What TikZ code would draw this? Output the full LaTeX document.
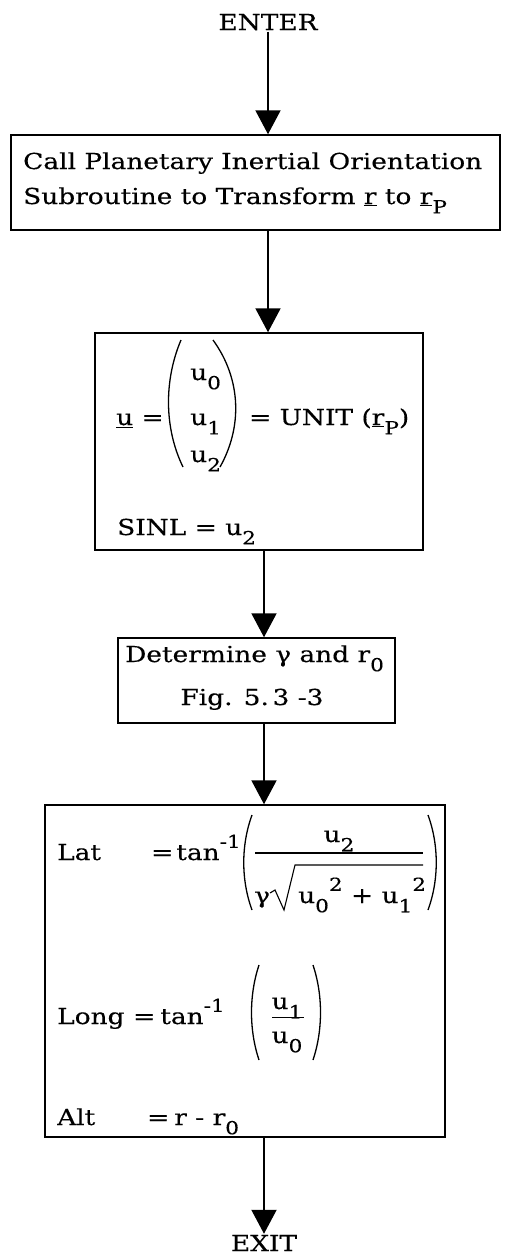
\documentclass[tikz,border=0pt]{standalone}
\usepackage{fontspec}
\setmainfont{DejaVu Serif}[FakeStretch=1.2,FakeBold=0.3]
\usetikzlibrary{arrows.meta}
\newcommand\dn[1]{\raisebox{-0.42em}{\fontsize{18}{18}\selectfont #1}}
\newcommand\up[1]{\raisebox{0.55em}{\fontsize{18}{18}\selectfont #1}}
\newcommand\ul[1]{\underline{#1}}
\begin{document}
\begin{tikzpicture}[x=1pt,y=-1pt,
  box/.style={draw, line width=1.5pt, inner sep=0pt},
  txt/.style={inner sep=0pt, anchor=base west, font=\fontsize{22}{26}\selectfont},
  arr/.style={line width=2pt, -{Triangle[width=25pt,length=24pt]}},
  paren/.style={line width=1.3pt},
  bar/.style={line width=1.3pt}]
\useasboundingbox (0,0) rectangle (506,1258);
% boxes
\node[box, minimum width=489pt, minimum height=95pt] (b1) at (255.5,182.5) {};
\node[box, minimum width=328pt, minimum height=217pt] (b2) at (259,441.5) {};
\node[box, minimum width=277pt, minimum height=85pt] (b3) at (256.5,680.5) {};
\node[box, minimum width=400pt, minimum height=332pt] (b4) at (245,971) {};
% terminals
\node[txt, anchor=base, inner sep=1pt] (enter) at (268,30) {ENTER};
\node[txt, anchor=base, inner sep=1pt] (exit) at (264,1251) {EXIT};
% box 1
\node[txt] (t1a) at (23,169) {Call Planetary Inertial Orientation};
\node[txt] (t1b) at (23,204) {Subroutine to Transform \ul{r} to \ul{r}\dn{P}};
% box 2
\node[txt] (t2u) at (116,425) {\ul{u} =};
\node[txt] (t2a) at (190,380) {u\dn{0}};
\node[txt] (t2b) at (190,425) {u\dn{1}};
\node[txt] (t2c) at (190,462) {u\dn{2}};
\node[txt] (t2d) at (249,425) {= UNIT (\ul{r}\dn{P})};
\node[txt] (t2e) at (117,535) {SINL = u\dn{2}};
\draw[paren] (181,340) .. controls (164,380) and (164,428) .. (183,467);
\draw[paren] (213,340) .. controls (242,380) and (242,428) .. (220,467);
% box 3
\node[txt] (t3a) at (125,662) {Determine γ and r\dn{0}};
\node[txt, anchor=base] (t3b) at (252,705) {Fig. 5.\,3 -3};
% box 4
\node[txt] (lat) at (57,860) {Lat};
\node[txt] (lateq) at (151,860) {=\hspace{3pt}tan\up{-1}};
\draw[paren] (252,815) .. controls (241,845) and (241,880) .. (252,910);
\node[txt, anchor=base] (num) at (339,842) {u\dn{2}};
\draw[bar] (255,853) -- (423,853);
\node[txt] (gam) at (254,903) {γ};
\draw[line width=1.1pt] (270,893) -- (275,890) -- (284,910) -- (295,865) -- (423,865);
\node[txt] (den) at (298,903) {u\dn{0}\up{2} + u\dn{1}\up{2}};
\draw[paren] (428,815) .. controls (439,845) and (439,880) .. (428,910);
\node[txt] (long) at (57,1024) {Long};
\node[txt] (longeq) at (133,1024) {=\hspace{5pt}tan\up{-1}};
\draw[paren] (259,965) .. controls (249,995) and (249,1030) .. (259,1060);
\node[txt, anchor=base] (lnum) at (287,1009) {u\dn{1}};
\draw[line width=0.9pt] (272,1017) -- (304,1017);
\node[txt, anchor=base] (lden) at (287,1043) {u\dn{0}};
\draw[paren] (313,965) .. controls (323,995) and (323,1030) .. (313,1060);
\node[txt] (alt) at (57,1125) {Alt};
\node[txt] (alteq) at (147,1125) {=\hspace{5pt}r - r\dn{0}};
% connectors
\draw[arr] (enter.south) -- (enter.south |- b1.north);
\draw[arr] (b1.south -| enter.south) -- (b2.north -| enter.south);
\draw[arr] (b2.south -| exit.north) -- (b3.north -| exit.north);
\draw[arr] (b3.south -| exit.north) -- (b4.north -| exit.north);
\draw[arr] (b4.south -| exit.north) -- (exit.north);
\end{tikzpicture}
\end{document}
